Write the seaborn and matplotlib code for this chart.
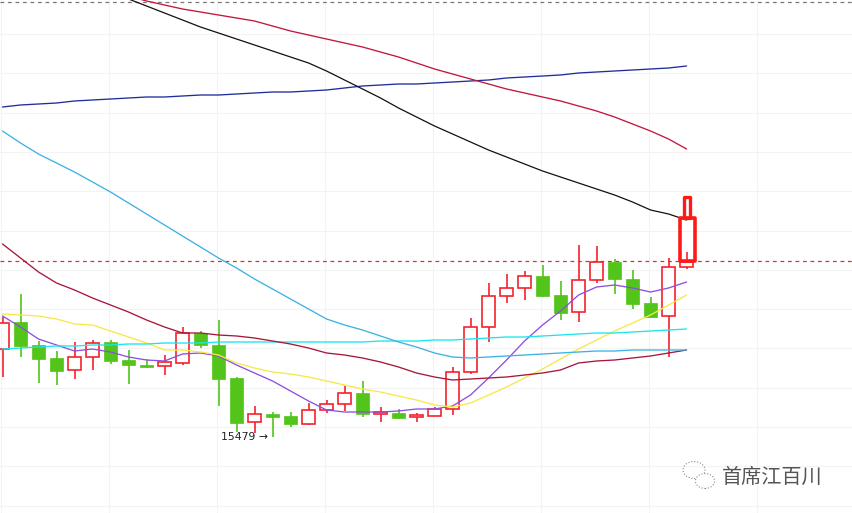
import numpy as np
import matplotlib
matplotlib.use("Agg")
import matplotlib.pyplot as plt
from matplotlib.patches import Rectangle, Ellipse
import seaborn as sns

# daily candles (open, high, low, close)
opens = [15655, 15709, 15663, 15637, 15613, 15639, 15669, 15633, 15623, 15621,
         15627, 15687, 15663, 15597, 15509, 15525, 15521, 15505, 15533, 15545,
         15567, 15525, 15527, 15519, 15521, 15535, 15609, 15699, 15761, 15777,
         15801, 15763, 15729, 15793, 15829, 15795, 15747, 15721, 15819]
highs = [15719, 15765, 15671, 15651, 15669, 15673, 15673, 15653, 15635, 15643,
         15699, 15691, 15713, 15599, 15541, 15529, 15529, 15547, 15553, 15581,
         15591, 15539, 15535, 15527, 15539, 15619, 15717, 15787, 15805, 15811,
         15823, 15791, 15863, 15861, 15835, 15813, 15759, 15837, 15849]
lows = [15599, 15639, 15587, 15583, 15595, 15613, 15625, 15585, 15617, 15603,
        15623, 15657, 15541, 15489, 15487, 15479, 15499, 15503, 15527, 15531,
        15519, 15509, 15515, 15509, 15521, 15523, 15605, 15669, 15747, 15753,
        15759, 15713, 15709, 15787, 15765, 15735, 15717, 15639, 15815]
closes = [15707, 15661, 15635, 15611, 15639, 15667, 15631, 15623, 15619, 15629,
          15687, 15663, 15595, 15507, 15525, 15519, 15505, 15533, 15545, 15567,
          15525, 15529, 15517, 15523, 15535, 15609, 15699, 15761, 15777, 15801,
          15761, 15727, 15793, 15829, 15795, 15745, 15719, 15819, 15829]

# moving averages
ma_purple = [15721, 15699, 15675, 15663, 15651, 15655, 15649, 15639, 15633, 15631,
             15645, 15647, 15641, 15623, 15607, 15591, 15571, 15551, 15533, 15529,
             15529, 15529, 15531, 15535, 15535, 15541, 15563, 15597, 15633, 15671,
             15703, 15731, 15763, 15779, 15783, 15777, 15769, 15777, 15789]
ma_yellow = [15725, 15723, 15721, 15715, 15705, 15703, 15691, 15679, 15667, 15653,
             15653, 15649, 15643, 15627, 15617, 15609, 15605, 15599, 15591, 15583,
             15575, 15569, 15561, 15553, 15543, 15539, 15547, 15563, 15579, 15597,
             15615, 15635, 15655, 15673, 15691, 15707, 15723, 15743, 15763]
ma_cyan = [15655, 15657, 15659, 15661, 15661, 15663, 15663, 15665, 15665, 15667,
           15667, 15667, 15669, 15669, 15669, 15669, 15669, 15669, 15669, 15669,
           15669, 15671, 15671, 15671, 15673, 15673, 15675, 15677, 15679, 15679,
           15681, 15683, 15685, 15687, 15687, 15689, 15691, 15693, 15695]
ma_crimson = [15865, 15837, 15809, 15787, 15773, 15757, 15743, 15729, 15713, 15699,
              15687, 15687, 15683, 15681, 15677, 15671, 15665, 15657, 15647, 15643,
              15637, 15629, 15619, 15607, 15599, 15593, 15595, 15597, 15599, 15603,
              15607, 15613, 15627, 15631, 15633, 15637, 15641, 15647, 15653]
ma_sky = [16091, 16067, 16045, 16027, 16009, 15989, 15969, 15947, 15925, 15903,
          15881, 15859, 15837, 15817, 15795, 15775, 15755, 15735, 15715, 15703,
          15693, 15681, 15669, 15659, 15647, 15639, 15637, 15639, 15641, 15643,
          15645, 15647, 15649, 15651, 15651, 15653, 15653, 15653, 15653]
ma_navy = [16139, 16143, 16145, 16147, 16151, 16153, 16155, 16157, 16159, 16159,
           16161, 16163, 16163, 16165, 16167, 16169, 16169, 16171, 16173, 16177,
           16181, 16183, 16185, 16185, 16187, 16189, 16191, 16193, 16197, 16199,
           16201, 16203, 16207, 16209, 16211, 16213, 16215, 16217, 16221]
ma_black = [16369, 16355, 16341, 16327, 16313, 16299, 16287, 16275, 16263, 16251,
            16239, 16227, 16211, 16193, 16175, 16157, 16137, 16119, 16101, 16085,
            16069, 16053, 16039, 16025, 16011, 15999, 15987, 15975, 15963, 15949,
            15933, 15925, 15913]          # starts at candle 6
ma_red = [16361, 16351, 16343, 16335, 16329, 16323, 16317, 16311, 16301, 16291,
          16283, 16275, 16267, 16259, 16249, 16239, 16227, 16215, 16205, 16195,
          16185, 16175, 16167, 16159, 16151, 16141, 16131, 16119, 16105, 16091,
          16075, 16055]                   # starts at candle 7

# highlighted last bar
hl_open, hl_close, hl_high = 15831, 15917, 15959
top_level = 16350
last_level = 15831
low_label = "15479 →"
low_value = 15479

n = len(opens)
idx = np.arange(n)
o = np.array(opens); c = np.array(closes)
h = np.array(highs); l = np.array(lows)
up = c >= o

sns.set_style("white")
fig = plt.figure(figsize=(8.52, 5.13), dpi=100)
ax = fig.add_axes([0, 0, 1, 1])

RED = "#f5222d"
GREEN = "#52c41a"
w = 0.69

# wicks
top_body = np.maximum(o, c)
bot_body = np.minimum(o, c)
ax.vlines(idx[up], top_body[up], h[up], color=RED, lw=1.2, zorder=2)
ax.vlines(idx[up], l[up], bot_body[up], color=RED, lw=1.2, zorder=2)
ax.vlines(idx[~up], l[~up], h[~up], color=GREEN, lw=1.2, zorder=2)
# bodies
ax.bar(idx[up], (c - o)[up], bottom=o[up], width=w, facecolor="none",
       edgecolor=RED, lw=1.2, zorder=2)
ax.bar(idx[~up], (o - c)[~up], bottom=c[~up], width=w, color=GREEN,
       edgecolor=GREEN, lw=0.5, zorder=2)

# moving averages
line_kw = dict(ax=ax, legend=False, zorder=3)
sns.lineplot(x=idx, y=ma_purple, color="#8e4fe0", lw=0.95, **line_kw)
sns.lineplot(x=idx, y=ma_yellow, color="#f7e84a", lw=0.95, **line_kw)
sns.lineplot(x=idx, y=ma_cyan, color="#1de4ef", lw=0.95, **line_kw)
sns.lineplot(x=idx, y=ma_crimson, color="#a8173a", lw=0.95, **line_kw)
sns.lineplot(x=idx, y=ma_sky, color="#3db2e3", lw=0.95, **line_kw)
sns.lineplot(x=idx, y=ma_navy, color="#1f2e9c", lw=0.95, **line_kw)
sns.lineplot(x=idx[n - len(ma_black):], y=ma_black, color="#111111", lw=0.9, **line_kw)
sns.lineplot(x=idx[n - len(ma_red):], y=ma_red, color="#c3163d", lw=0.95, **line_kw)

# highlighted bar
last = idx[-1] + 0.03
ax.add_patch(Rectangle((last - 0.42, hl_open), 0.84, hl_close - hl_open,
                       fill=False, edgecolor="#ff1a1a", lw=2.6, zorder=4,
                       joinstyle="round"))
ax.add_patch(Rectangle((last - 0.17, hl_close), 0.34, hl_high - hl_close,
                       fill=False, edgecolor="#ff1a1a", lw=2.4, zorder=4,
                       joinstyle="round"))

# reference levels
ax.axhline(top_level, color="#777777", lw=0.9, ls=(0, (3, 3)), zorder=1)
ax.axhline(last_level, color="#e52b2b", lw=0.9, ls=(0, (3, 3)), zorder=1)

# low label
low_i = int(np.argmin(l))
ax.annotate(low_label, xy=(low_i, low_value), xytext=(-3, 0),
            textcoords="offset points", ha="right", va="center",
            fontsize=7.8, color="#222222")

ax.set_xlim(-0.139, 47.19)
ax.set_ylim(15327, 16353)
ax.set_xticks(np.arange(-0.08, 47, 6))
ax.set_yticks(np.arange(16285, 15300, -78.6))
ax.grid(True, color="#f3f3f3", lw=0.8, zorder=0)
ax.tick_params(left=False, bottom=False, labelleft=False, labelbottom=False)
for s in ax.spines.values():
    s.set_visible(False)

# watermark
fig.text(0.906, 0.070, "首席江百川", fontsize=14.5, color="#555555",
         ha="center", va="center",
         family=["Noto Sans CJK SC", "DejaVu Sans"])
fig.patches.append(Ellipse((694 / 852, 1 - 470 / 513), 22 / 852, 17 / 513,
                           transform=fig.transFigure, fill=False,
                           edgecolor="#888888", lw=0.8, ls=":"))
fig.patches.append(Ellipse((705 / 852, 1 - 481 / 513), 19 / 852, 15 / 513,
                           transform=fig.transFigure, facecolor="white",
                           edgecolor="#888888", lw=0.8, ls=":"))

fig.savefig("out.png", dpi=100)
